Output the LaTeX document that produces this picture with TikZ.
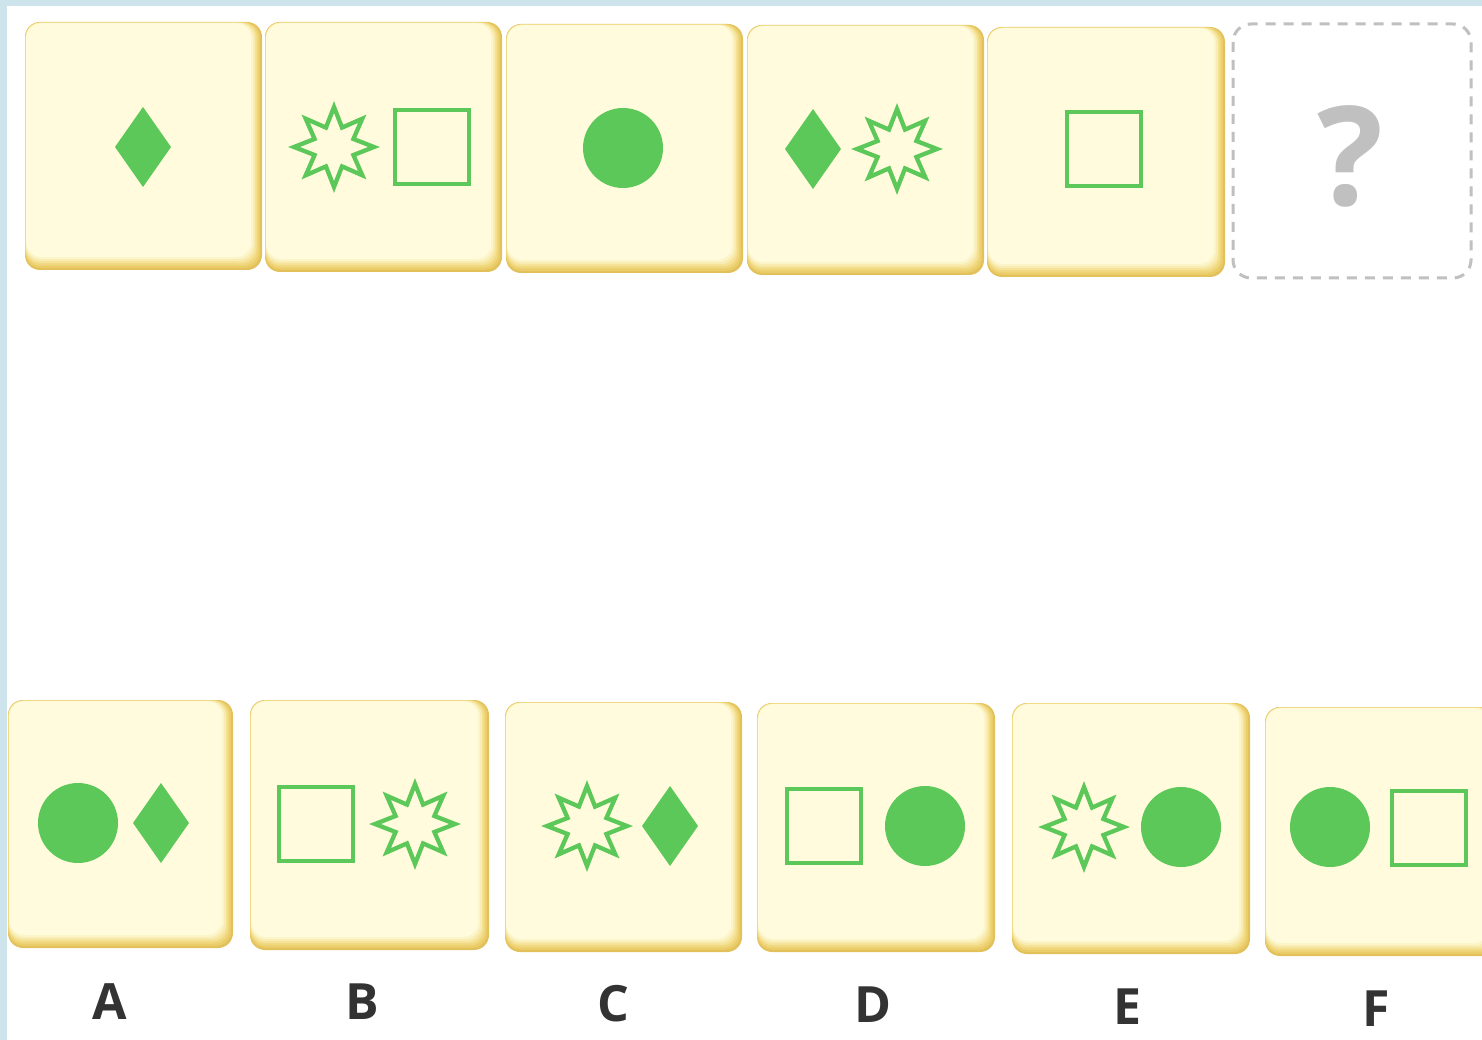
\documentclass[tikz,border=0pt]{standalone}
\usepackage{fontspec}
\setmainfont{Open Sans}
\usetikzlibrary{calc}
\definecolor{gr}{HTML}{5CC85A}
\definecolor{framec}{HTML}{CDE4EC}
\definecolor{qgray}{HTML}{C0C0C0}
\definecolor{labc}{HTML}{333333}
\definecolor{tg0}{HTML}{E2C05A}
\definecolor{tg1}{HTML}{EACC68}
\definecolor{tg2}{HTML}{F0D77C}
\definecolor{tg3}{HTML}{F5E296}
\definecolor{tg4}{HTML}{F9ECB2}
\definecolor{tg5}{HTML}{FCF5CA}
\definecolor{tg6}{HTML}{FFFBDC}
\tikzset{
  gdia/.pic={\fill[gr] (0,-40) -- (28,0) -- (0,40) -- (-28,0) -- cycle;},
  gcirc/.pic={\fill[gr] (0,0) circle (40pt);},
  gsq/.pic={\draw[gr, line width=3.8pt] (-37,-37) rectangle (37,37);},
  gstar/.pic={\draw[gr, line width=4.3pt, line join=miter, miter limit=10]
     (90:40) \foreach \i in {1,...,15}{ -- ({90+22.5*\i}:{30.5+9.5*cos(\i*180)}) } -- cycle;},
  lab/.style={font=\fontsize{50pt}{50pt}\selectfont\bfseries, text=labc, inner sep=0pt},
  qbox/.style={draw=qgray, line width=3pt, dash pattern=on 10pt off 8pt, rounded corners=18pt},
}
\newcommand\mktile[5]{%
  \path[fill=tg0, rounded corners=15pt] (#2,#3) rectangle (#4,#5);
  \foreach \k/\c in {1/tg1,2/tg2,3/tg3,4/tg4,5/tg5,6/tg6}{%
    \path[fill=\c, rounded corners=15pt] ({#2+0.2*\k},{#3+0.2*\k}) rectangle ({#4-1.8*\k},{#5-2.2*\k});
  }%
  \coordinate (#1) at ({(#2+#4)/2},{(#3+#5)/2});
}
\begin{document}
\begin{tikzpicture}[x=1pt,y=-1pt]
\useasboundingbox (0,0) rectangle (1482,1040);
\fill[framec] (0,0) rectangle (1482,1040);
\fill[white] (7,6) rectangle (1482,1040);

% top row
\mktile{t1}{25}{22}{262}{270}
\mktile{t2}{265}{22}{502}{272}
\mktile{t3}{506}{24}{743}{273}
\mktile{t4}{747}{25}{984}{275}
\mktile{t5}{987}{27}{1225}{277}
\draw[qbox] (1233,24) rectangle (1471,278);
\node[font=\fontsize{138pt}{138pt}\selectfont\bfseries, text=qgray, inner sep=0pt] (q) at (1350,156) {?};

\pic at (143,147) {gdia};
\pic at (334,147) {gstar};
\pic at (432,147) {gsq};
\pic at (623,148) {gcirc};
\pic at (813,149) {gdia};
\pic at (897,149) {gstar};
\pic at (1104,149) {gsq};

% bottom row
\mktile{a}{8}{700}{233}{948}
\mktile{b}{250}{700}{489}{950}
\mktile{c}{505}{702}{742}{952}
\mktile{d}{757}{703}{995}{952}
\mktile{e}{1012}{703}{1250}{954}
\mktile{f}{1265}{707}{1500}{956}

\pic at (78,823) {gcirc};
\pic at (161,823) {gdia};
\pic at (316,824) {gsq};
\pic at (415,824) {gstar};
\pic at (587,826) {gstar};
\pic at (670,826) {gdia};
\pic at (824,826) {gsq};
\pic at (925,826) {gcirc};
\pic at (1084,827) {gstar};
\pic at (1181,827) {gcirc};
\pic at (1330,827) {gcirc};
\pic at (1429,828) {gsq};

\node[lab] (la) at (110,1002) {A};
\node[lab] (lb) at (362,1002) {B};
\node[lab] (lc) at (613,1004) {C};
\node[lab] (ld) at (873,1005) {D};
\node[lab] (le) at (1127,1007) {E};
\node[lab] (lf) at (1376,1009) {F};
\end{tikzpicture}
\end{document}
